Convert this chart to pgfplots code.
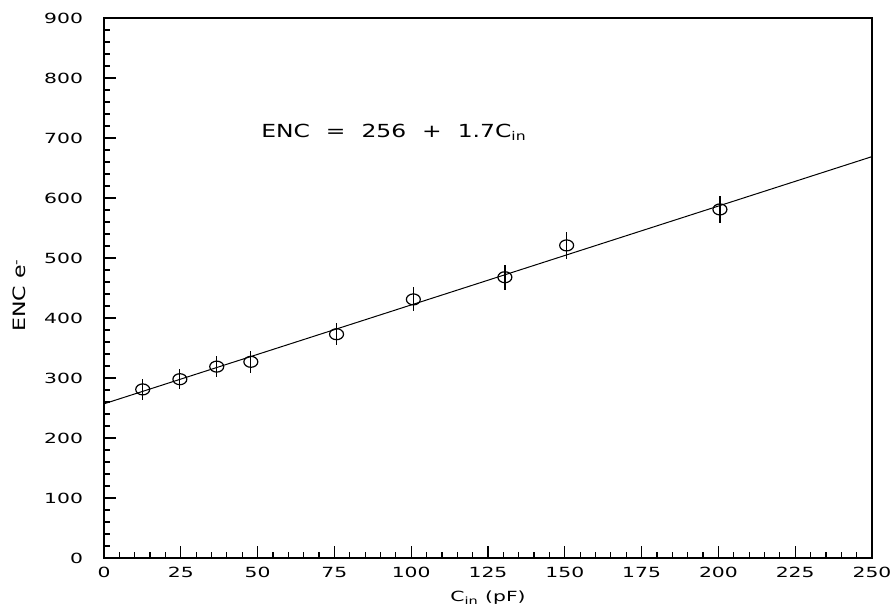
\documentclass[border=0pt]{standalone}
\usepackage{fontspec}
\setmainfont{DejaVu Sans}[FakeStretch=1.3]
\newfontfamily\tickfont{DejaVu Sans}[FakeStretch=1.45]
\usepackage{pgfplots}
\pgfplotsset{compat=1.18}

\pgfplotstableread{
x      y    e
12.6   281  17
24.7   298  17
36.7   319  18
47.8   327  18
75.7   373  18
100.7  431  20
130.5  468  21
150.6  521  22
200.5  581  23
}\encdata

\begin{document}
\begin{tikzpicture}
\useasboundingbox (-52pt,-27pt) rectangle (394.5pt,279pt);
\begin{axis}[
  scale only axis, width=384pt, height=270pt,
  xmin=0, xmax=250, ymin=0, ymax=900, clip=false,
  xtick={0,25,...,250}, ytick={0,100,...,900},
  minor x tick num=4, minor y tick num=4,
  tick align=inside, tick pos=left,
  major tick length=6pt, minor tick length=3pt,
  axis line style={line width=0.7pt},
  every tick/.append style={black, line width=0.6pt},
  tick label style={font=\tickfont\fontsize{7}{8}\selectfont, /pgf/number format/assume math mode=true},
  yticklabel style={xshift=-7pt},
  xticklabel style={yshift=-1pt},
  xlabel={C\textsubscript{in} (pF)},
  ylabel={ENC e\textsuperscript{-}},
  xlabel style={font=\tickfont\fontsize{7}{8}\selectfont, at={(axis description cs:0.5,-0.074)}, anchor=center},
  ylabel style={font=\fontsize{8.5}{9}\selectfont, at={(axis description cs:-0.110,0.487)}, anchor=center},
]
% fitted line
\addplot[black, line width=0.5pt] coordinates {(0,257) (250,669)};
% point on the axis: only its error bar shows
\addplot[black, line width=0.9pt] coordinates {(0,242) (0,274)};
% measurements
\addplot[only marks, mark=o, mark size=2.75pt, mark options={xscale=1.27, line width=0.6pt, black},
  error bars/.cd, y dir=both, y explicit, error mark=none,
  error bar style={draw=black, line width=0.6pt}]
  table[x=x, y=y, y error=e] {\encdata};
\node[font=\fontsize{9}{10}\selectfont] at (axis cs:94.4,710)
  {ENC\hspace{8pt}=\hspace{8pt}256\hspace{8pt}+\hspace{8pt}1.7C\textsubscript{in}};
\end{axis}
\end{tikzpicture}
\end{document}
